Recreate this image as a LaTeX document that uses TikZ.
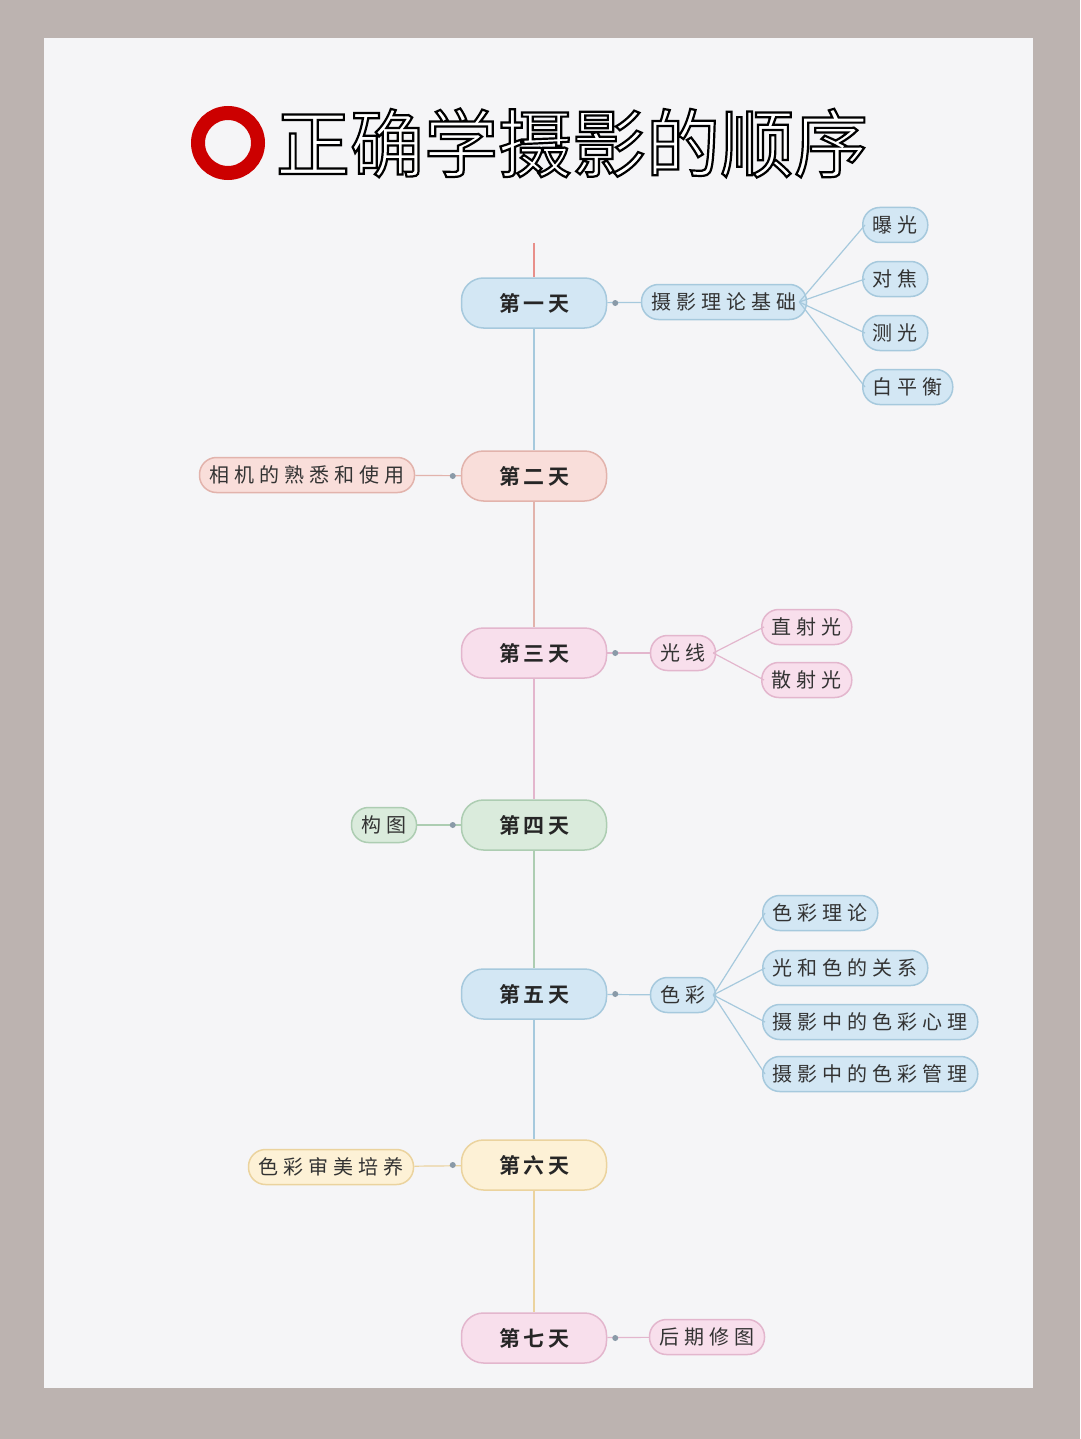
\documentclass[tikz,border=0pt]{standalone}
\usepackage{fontspec}
\newfontfamily\cjk{Noto Sans CJK SC}
\newfontfamily\cjkbold{Noto Sans CJK SC Bold}
\definecolor{panelbg}{HTML}{F5F5F7}
\definecolor{outerbg}{HTML}{BCB3B0}
\definecolor{bluefill}{HTML}{D3E7F4}
\definecolor{blueline}{HTML}{A6C9DD}
\definecolor{redfill}{HTML}{F9DEDA}
\definecolor{redline}{HTML}{E2B3AC}
\definecolor{pinkfill}{HTML}{F8DFEC}
\definecolor{pinkline}{HTML}{E3B6CD}
\definecolor{greenfill}{HTML}{DAEBDC}
\definecolor{greenline}{HTML}{ADCDB2}
\definecolor{yellowfill}{HTML}{FDF1D6}
\definecolor{yellowline}{HTML}{EBD39E}
\definecolor{dotcol}{HTML}{8A9AA8}
\newcommand{\outlined}[1]{\special{pdf:literal direct q 2 Tr 2.2 w 0 G 1 g}#1\special{pdf:literal direct Q}}
\tikzset{
  day/.style={rounded corners=22pt, minimum width=145pt, minimum height=50pt,
    line width=1.5pt, font=\cjkbold\fontsize{21}{21}\selectfont, text=black!85},
  sub/.style={rounded corners=17pt, minimum height=35pt, inner xsep=10pt,
    line width=1.5pt, font=\cjk\fontsize{20}{20}\selectfont\addfontfeature{LetterSpace=25}, text=black!80},
  branch/.style={line width=1.2pt},
  knob/.style={circle, fill=dotcol, inner sep=0pt, minimum size=6pt}
}
\begin{document}
\begin{tikzpicture}[x=1pt,y=-1pt]
\useasboundingbox (0,0) rectangle (1080,1439);
\fill[outerbg] (0,0) rectangle (1080,1439);
\fill[panelbg] (44,38) rectangle (1033,1388);

% title
\draw[red!80!black, line width=14pt] (228,143) circle (30pt);
\node[font=\cjk\fontsize{74}{74}\selectfont] (title) at (572,143) {\outlined{正确学摄影的顺序}};

% days
\node[day, draw=blueline, fill=bluefill] (d1) at (534,303) {第\,一\,天};
\node[day, draw=redline, fill=redfill] (d2) at (534,476) {第\,二\,天};
\node[day, draw=pinkline, fill=pinkfill] (d3) at (534,653) {第\,三\,天};
\node[day, draw=greenline, fill=greenfill] (d4) at (534,825) {第\,四\,天};
\node[day, draw=blueline, fill=bluefill] (d5) at (534,994) {第\,五\,天};
\node[day, draw=yellowline, fill=yellowfill] (d6) at (534,1165) {第\,六\,天};
\node[day, draw=pinkline, fill=pinkfill] (d7) at (534,1338) {第\,七\,天};
\coordinate (top) at (534,243);

% spine
\draw[branch, redline!80!red] (top) -- (d1);
\draw[branch, blueline] (d1) -- (d2);
\draw[branch, redline] (d2) -- (d3);
\draw[branch, pinkline] (d3) -- (d4);
\draw[branch, greenline] (d4) -- (d5);
\draw[branch, blueline] (d5) -- (d6);
\draw[branch, yellowline] (d6) -- (d7);

% day 1
\node[sub, draw=blueline, fill=bluefill] (theory) at (724,302) {摄影理论基础};
\node[sub, draw=blueline, fill=bluefill, anchor=west] (expo) at (862,225) {曝光};
\node[sub, draw=blueline, fill=bluefill, anchor=west] (focus) at (862,279) {对焦};
\node[sub, draw=blueline, fill=bluefill, anchor=west] (meter) at (862,333) {测光};
\node[sub, draw=blueline, fill=bluefill, anchor=west] (wb) at (862,387) {白平衡};
\draw[branch, blueline] (d1) -- (theory);
\foreach \n in {expo,focus,meter,wb}
  \draw[branch, blueline] ([xshift=-8pt]theory.east) -- ([xshift=3pt]\n.west);

% day 2
\node[sub, draw=redline, fill=redfill] (camera) at (307,475) {相机的熟悉和使用};
\draw[branch, redline] (d2) -- (camera);

% day 3
\node[sub, draw=pinkline, fill=pinkfill] (light) at (683,653) {光线};
\node[sub, draw=pinkline, fill=pinkfill, anchor=west] (direct) at (761,627) {直射光};
\node[sub, draw=pinkline, fill=pinkfill, anchor=west] (diffuse) at (761,680) {散射光};
\draw[branch, pinkline] (d3) -- (light);
\foreach \n in {direct,diffuse}
  \draw[branch, pinkline] ([xshift=-3pt]light.east) -- ([xshift=3pt]\n.west);

% day 4
\node[sub, draw=greenline, fill=greenfill] (compo) at (384,825) {构图};
\draw[branch, greenline] (d4) -- (compo);

% day 5
\node[sub, draw=blueline, fill=bluefill] (colour) at (683,995) {色彩};
\node[sub, draw=blueline, fill=bluefill, anchor=west] (ctheory) at (762,913) {色彩理论};
\node[sub, draw=blueline, fill=bluefill, anchor=west] (clight) at (762,968) {光和色的关系};
\node[sub, draw=blueline, fill=bluefill, anchor=west] (cpsy) at (762,1022) {摄影中的色彩心理};
\node[sub, draw=blueline, fill=bluefill, anchor=west] (cmgmt) at (762,1074) {摄影中的色彩管理};
\draw[branch, blueline] (d5) -- (colour);
\foreach \n in {ctheory,clight,cpsy,cmgmt}
  \draw[branch, blueline] ([xshift=-3pt]colour.east) -- ([xshift=3pt]\n.west);

% day 6
\node[sub, draw=yellowline, fill=yellowfill] (taste) at (331,1167) {色彩审美培养};
\draw[branch, yellowline] (d6) -- (taste);

% day 7
\node[sub, draw=pinkline, fill=pinkfill] (post) at (707,1337) {后期修图};
\draw[branch, pinkline] (d7) -- (post);

% knobs
\foreach \n in {d1,d3,d5,d7}
  \node[knob] at ([xshift=8pt]\n.east) {};
\foreach \n in {d2,d4,d6}
  \node[knob] at ([xshift=-8pt]\n.west) {};
\end{tikzpicture}
\end{document}
